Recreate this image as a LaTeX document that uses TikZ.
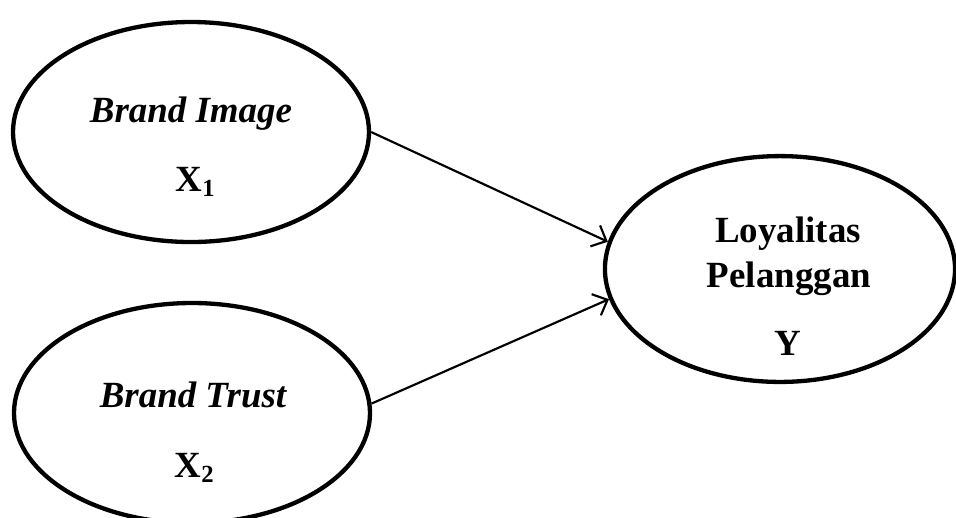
\documentclass[tikz,border=0pt]{standalone}
\usepackage{fontspec}
\setmainfont{Liberation Serif}
\usetikzlibrary{shapes.geometric,arrows.meta}

\tikzset{
  var/.style={draw, ellipse, line width=1.4pt, inner sep=0pt,
    minimum width=115.7pt, minimum height=71.5pt},
  lbl/.style={anchor=base, inner sep=0pt, font=\fontsize{12}{14}\selectfont\bfseries},
  link/.style={line width=0.7pt, -{Straight Barb[length=4pt,width=7.5pt]}}
}

\begin{document}
\begin{tikzpicture}[x=0.325pt,y=-0.325pt]
\useasboundingbox (0,0) rectangle (956,517);
% variabel
\node[var] (bi) at (191,132) {};
\node[var] (bt) at (192,413) {};
\node[var, minimum width=113.8pt, minimum height=73.4pt] (lp) at (780,269) {};
% teks
\node[lbl] (biname) at (191,122) {\itshape Brand Image};
\node[lbl] (bisym) at (196,191) {X\textsubscript{1}};
\node[lbl] (btname) at (193,407) {\itshape Brand Trust};
\node[lbl] (btsym) at (195,477) {X\textsubscript{2}};
\node[lbl] (lpname1) at (788,242) {Loyalitas};
\node[lbl] (lpname2) at (789,287) {Pelanggan};
\node[lbl] (lpsym) at (788,355) {Y};
% panah
\draw[link] (bi.east) -- (lp.171);
\draw[link] (bt.3) -- (lp.190);
\end{tikzpicture}
\end{document}
